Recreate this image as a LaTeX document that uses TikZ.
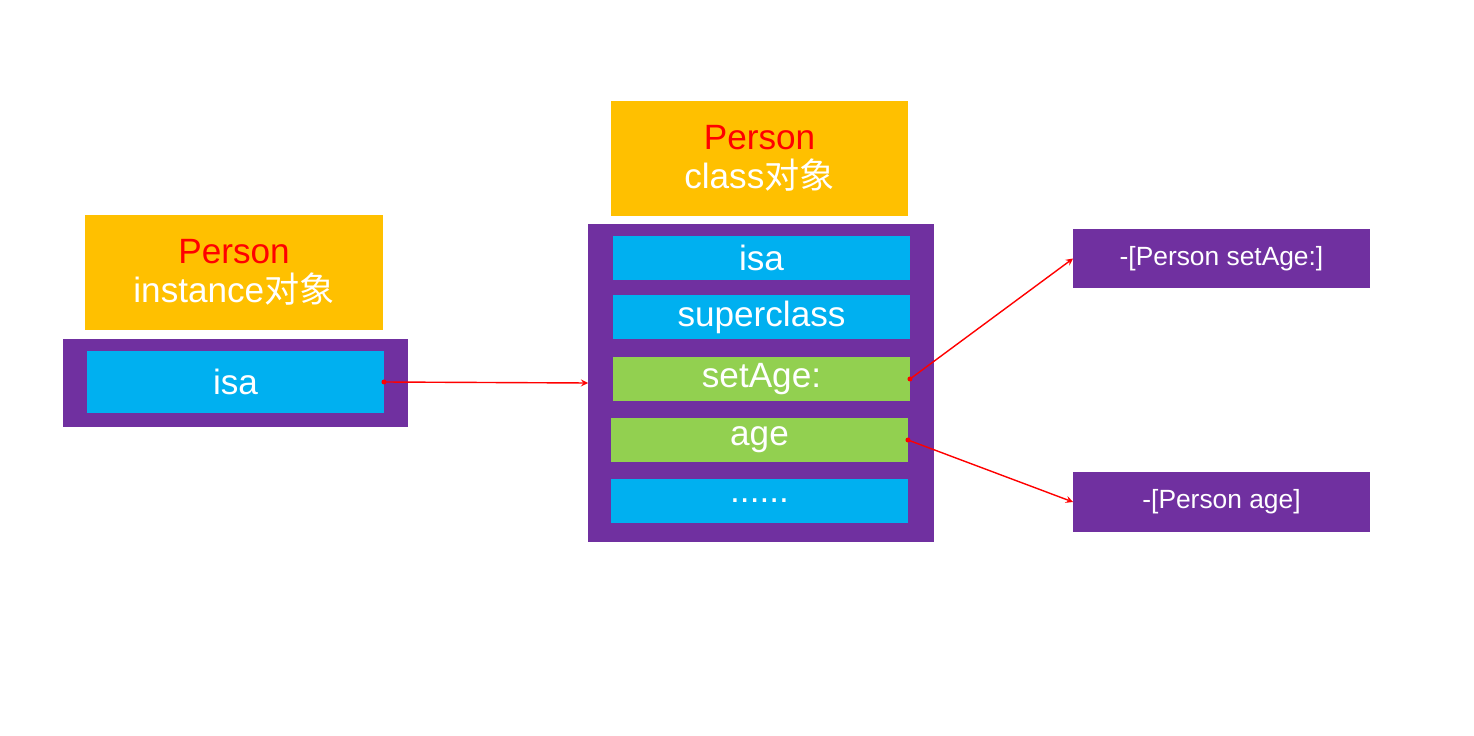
\documentclass[tikz,border=0pt]{standalone}
\usepackage{fontspec}
\setmainfont{Liberation Sans}
\newfontfamily\cjk{Noto Sans CJK SC}
\usetikzlibrary{calc}
\definecolor{cyellow}{HTML}{FFC000}
\definecolor{cblue}{HTML}{00B0F0}
\definecolor{cgreen}{HTML}{92D050}
\definecolor{cpurple}{HTML}{7030A0}
\definecolor{cred}{HTML}{FF0000}
\tikzset{
  box/.style={draw=none,inner sep=0pt,outer sep=0pt,text=white,align=center,
    font=\fontsize{20}{24}\selectfont},
  slot/.style={box,fill=cblue,minimum width=5.94cm,minimum height=0.88cm},
  meth/.style={box,fill=cgreen,minimum width=5.94cm,minimum height=0.88cm},
  imp/.style={box,fill=cpurple,minimum width=5.94cm,minimum height=1.19cm,
    font=\fontsize{15}{18}\selectfont},
  link/.style={cred,thick,-stealth},
}
\begin{document}
\begin{tikzpicture}[x=0.02cm,y=-0.02cm]
                \useasboundingbox (0,0) rectangle (1474,736);
                % Instance object
                \node[box,fill=cyellow,minimum width=5.96cm,minimum height=2.3cm,
                  font=\fontsize{20}{22}\selectfont] (insthead) at (234,272.5)
                  {\textcolor{cred}{Person}\\instance{\cjk 对象}};
                \node[box,fill=cpurple,minimum width=6.9cm,minimum height=1.76cm] (instbody) at (235.5,383) {};
                \node[slot,minimum width=5.94cm,minimum height=1.24cm] (instisa) at (235.5,382) {isa};
                % Class object
                \node[box,fill=cyellow,minimum width=5.94cm,minimum height=2.3cm,
                  font=\fontsize{20}{22}\selectfont] (clshead) at (759.5,158.5)
                  {\textcolor{cred}{Person}\\class{\cjk 对象}};
                \node[box,fill=cpurple,minimum width=6.92cm,minimum height=6.36cm] (clsbody) at (761,383) {};
                \node[slot] (clsisa) at (761.5,258) {isa};
                \node[slot] (super) at (761.5,317) {superclass};
                \node[meth] (setage) at (761.5,379) {setAge:};
                \node[meth] (age) at (759.5,440) {age};
                \node[slot] (more) at (759.5,501) {......};
                % Method implementations
                \node[imp] (impsetage) at (1221.5,258.5) {-[Person setAge:]};
                \node[imp] (impage) at (1221.5,502) {-[Person age]};
                % Pointers
                \fill[cred] (instisa.east) circle (2.5);
                \draw[link] (instisa.east) -- (clsbody.west);
                \fill[cred] (setage.east) circle (2.5);
                \draw[link] (setage.east) -- (impsetage.west);
                \fill[cred] (age.east) circle (2.5);
                \draw[link] (age.east) -- (impage.west);
            \end{tikzpicture}
\end{document}
